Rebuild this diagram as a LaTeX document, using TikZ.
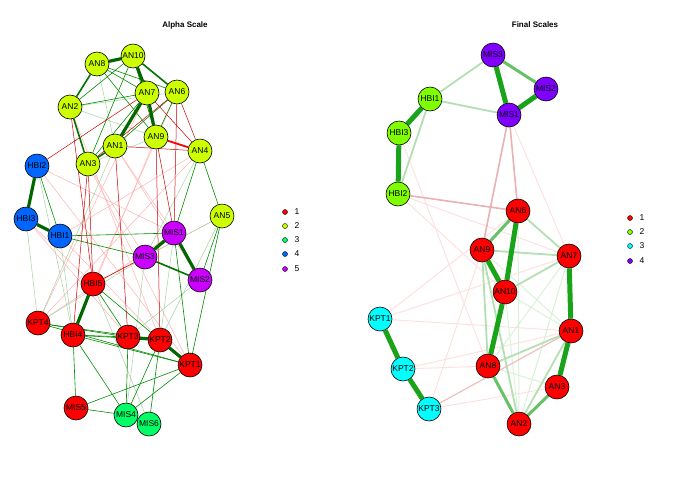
\documentclass[tikz,border=0pt]{standalone}
\usepackage{fontspec}
\setmainfont{Liberation Sans}
\pgfdeclarelayer{bg}
\pgfsetlayers{bg,main}
\begin{document}
\begin{tikzpicture}[x=1pt,y=-1pt,
 nd/.style={circle,draw=black,line width=0.6pt,minimum size=24pt,inner sep=0pt,font=\fontsize{8.5}{8.5}\selectfont},
 g1/.style={draw=green!55!black,line width=0.6pt},
 g2/.style={draw=green!45!black,line width=1.6pt},
 g3/.style={draw=green!40!black,line width=3.2pt},
 gl/.style={draw=green!50!black!35,line width=0.5pt},
 r1/.style={draw=red!80!black,line width=0.5pt},
 r2/.style={draw=red,line width=1.8pt},
 rl/.style={draw=red!30,line width=0.5pt},
 R1/.style={draw=red!70!black!30,line width=1.6pt},
 G1/.style={draw=green!60!black!30,line width=1.8pt},
 G2/.style={draw=green!60!black!60,line width=3pt},
 G3/.style={draw=green!60!black!90,line width=5pt},
 Gf/.style={draw=green!60!black!15,line width=1pt},
 Rf/.style={draw=red!12,line width=1pt},
 lg/.style={circle,draw=black,line width=0.4pt,minimum size=5pt,inner sep=0pt},
 lt/.style={font=\fontsize{8.5}{8.5}\selectfont,anchor=west}]
\useasboundingbox (0,0) rectangle (700,480);
\definecolor{yg}{RGB}{204,255,0}
\definecolor{sg}{RGB}{0,255,102}
\definecolor{bl}{RGB}{0,102,255}
\definecolor{pu}{RGB}{204,0,255}
\definecolor{ch}{RGB}{128,255,0}
\definecolor{cy}{RGB}{0,255,255}
\definecolor{vi}{RGB}{128,0,255}
\node[font=\bfseries\fontsize{8}{8}\selectfont] (t1) at (185,25) {Alpha Scale};
\node[font=\bfseries\fontsize{8}{8}\selectfont] (t2) at (535,25) {Final Scales};
% left nodes
\begin{scope}[every node/.style={nd}]
\node[fill=yg] (AN8) at (97,64) {AN8};
\node[fill=yg] (AN10) at (133,56) {AN10};
\node[fill=yg] (AN7) at (147,93) {AN7};
\node[fill=yg] (AN6) at (177,92) {AN6};
\node[fill=yg] (AN2) at (70,107) {AN2};
\node[fill=yg] (AN1) at (115,146) {AN1};
\node[fill=yg] (AN9) at (156,137) {AN9};
\node[fill=yg] (AN4) at (200,151) {AN4};
\node[fill=yg] (AN3) at (88,164) {AN3};
\node[fill=yg] (AN5) at (222,216) {AN5};
\node[fill=bl] (HBI2) at (37,166) {HBI2};
\node[fill=bl] (HBI3) at (26,219) {HBI3};
\node[fill=bl] (HBI1) at (60,236) {HBI1};
\node[fill=pu] (MIS1) at (174,233) {MIS1};
\node[fill=pu] (MIS3) at (145,257) {MIS3};
\node[fill=pu] (MIS2) at (200,280) {MIS2};
\node[fill=red] (HBI5) at (93,284) {HBI5};
\node[fill=red] (KPT4) at (38,323) {KPT4};
\node[fill=red] (HBI4) at (73,335) {HBI4};
\node[fill=red] (KPT3) at (128,337) {KPT3};
\node[fill=red] (KPT2) at (160,340) {KPT2};
\node[fill=red] (KPT1) at (190,365) {KPT1};
\node[fill=red] (MIS5) at (76,408) {MIS5};
\node[fill=sg] (MIS4) at (126,415) {MIS4};
\node[fill=sg] (MIS6) at (149,424) {MIS6};
\end{scope}
% right nodes
\begin{scope}[every node/.style={nd}]
\node[fill=vi] (RMIS3) at (493,55) {MIS3};
\node[fill=vi] (RMIS2) at (546,89) {MIS2};
\node[fill=vi] (RMIS1) at (509,115) {MIS1};
\node[fill=ch] (RHBI1) at (430,99) {HBI1};
\node[fill=ch] (RHBI3) at (399,133) {HBI3};
\node[fill=ch] (RHBI2) at (398,194) {HBI2};
\node[fill=red] (RAN6) at (518,211) {AN6};
\node[fill=red] (RAN9) at (482,250) {AN9};
\node[fill=red] (RAN7) at (569,256) {AN7};
\node[fill=red] (RAN10) at (505,292) {AN10};
\node[fill=red] (RAN1) at (571,331) {AN1};
\node[fill=red] (RAN8) at (488,366) {AN8};
\node[fill=red] (RAN3) at (557,387) {AN3};
\node[fill=red] (RAN2) at (519,424) {AN2};
\node[fill=cy] (RKPT1) at (380,319) {KPT1};
\node[fill=cy] (RKPT2) at (403,369) {KPT2};
\node[fill=cy] (RKPT3) at (429,409) {KPT3};
\end{scope}
\begin{pgfonlayer}{bg}
% left: faint lines
\foreach \a/\b in {HBI2/MIS1,HBI2/KPT1,HBI3/KPT3,HBI1/KPT2,HBI1/AN4,AN3/KPT1,AN1/MIS2,AN9/HBI4,AN4/KPT4,AN5/HBI5,AN2/KPT2,KPT4/MIS1,HBI3/HBI5,AN7/KPT4,AN6/HBI5,AN1/MIS1,AN3/MIS3}
  \draw[rl] (\a) -- (\b);
\foreach \a/\b in {HBI3/KPT4,HBI1/HBI4,KPT4/MIS3,AN5/KPT2,AN5/MIS3,MIS1/KPT2,MIS2/KPT3,AN4/MIS3,AN1/KPT4,MIS3/MIS4,HBI2/HBI4,AN3/AN9,HBI5/MIS6,AN2/AN9,AN8/AN1,AN2/AN6}
  \draw[gl] (\a) -- (\b);
% left: thin
\foreach \a/\b in {AN8/AN7,AN8/AN9,AN8/AN6,AN10/AN9,AN10/AN2,AN10/AN3,AN2/AN7,AN7/AN3,AN6/AN9,AN6/AN1,AN4/MIS1,AN4/AN5,AN5/MIS2,HBI2/HBI1,HBI1/MIS1,HBI1/MIS3,HBI5/KPT3,HBI5/KPT2,HBI4/MIS5,MIS5/MIS4,KPT4/KPT2,KPT4/KPT3,KPT4/KPT1,HBI4/KPT1,HBI4/KPT2,HBI4/KPT3,KPT3/MIS4,KPT1/MIS4,KPT1/MIS5,KPT2/MIS6,KPT2/MIS4,HBI4/MIS4,MIS1/KPT1,AN5/KPT1}
  \draw[g1] (\a) -- (\b);
\foreach \a/\b in {AN9/MIS1,AN6/MIS1,AN7/AN4,AN6/AN4,AN1/AN4,AN2/HBI5,AN3/HBI5,AN3/HBI4,AN1/KPT3,AN6/AN3,HBI2/AN7,MIS3/HBI5,AN9/KPT2}
  \draw[r1] (\a) -- (\b);
\draw[r2] (AN9) -- (AN4);
% left: strong
\foreach \a/\b in {AN8/AN2,AN10/AN6,AN2/AN3,AN1/AN3,MIS3/MIS2}
  \draw[g2] (\a) -- (\b);
\foreach \a/\b in {AN8/AN10,AN10/AN7,AN7/AN9,AN7/AN1,HBI2/HBI3,HBI3/HBI1,MIS1/MIS3,MIS1/MIS2,HBI5/HBI4,KPT3/KPT2,KPT2/KPT1}
  \draw[g3] (\a) -- (\b);
% right faint
\foreach \a/\b in {RHBI2/RAN10,RHBI2/RAN7,RKPT1/RAN6,RKPT1/RAN1,RKPT2/RAN8,RKPT3/RAN3,RKPT3/RAN9,RHBI3/RAN8,RMIS1/RAN7,RKPT2/RAN1,RKPT1/RAN7}
  \draw[Rf] (\a) -- (\b);
\foreach \a/\b in {RAN10/RAN1,RAN8/RAN3,RAN10/RAN2,RAN9/RAN1,RAN8/RAN7,RAN6/RAN2,RAN7/RAN2}
  \draw[Gf] (\a) -- (\b);
% right medium
\foreach \a/\b in {RHBI1/RMIS3,RHBI1/RMIS1,RHBI1/RHBI2,RAN6/RAN7,RAN9/RAN7,RAN10/RAN7,RAN1/RAN2,RAN9/RAN8,RAN9/RAN2,RAN8/RAN1}
  \draw[G1] (\a) -- (\b);
\foreach \a/\b in {RMIS1/RAN6,RMIS1/RAN9,RHBI2/RAN6}
  \draw[R1] (\a) -- (\b);
\draw[draw=red!70!black!25,line width=1.2pt] (RAN1) -- (RKPT3);
\foreach \a/\b in {RMIS3/RMIS2,RAN6/RAN9,RAN8/RAN2,RAN3/RAN2}
  \draw[G2] (\a) -- (\b);
\foreach \a/\b in {RHBI1/RHBI3,RHBI3/RHBI2,RMIS3/RMIS1,RMIS1/RMIS2,RAN6/RAN10,RAN9/RAN10,RAN7/RAN1,RAN1/RAN3,RAN10/RAN8,RKPT1/RKPT2,RKPT2/RKPT3}
  \draw[G3] (\a) -- (\b);
\end{pgfonlayer}
% legends
\node[lg,fill=red] (l1) at (285,212) {}; \node[lt] (l1t) at (291,212) {1};
\node[lg,fill=yg] (l2) at (285,226) {}; \node[lt] (l2t) at (291,226) {2};
\node[lg,fill=sg] (l3) at (285,240) {}; \node[lt] (l3t) at (291,240) {3};
\node[lg,fill=bl] (l4) at (285,254) {}; \node[lt] (l4t) at (291,254) {4};
\node[lg,fill=pu] (l5) at (285,269) {}; \node[lt] (l5t) at (291,269) {5};
\node[lg,fill=red] (m1) at (630,218) {}; \node[lt] (m1t) at (636,218) {1};
\node[lg,fill=ch] (m2) at (630,232) {}; \node[lt] (m2t) at (636,232) {2};
\node[lg,fill=cy] (m3) at (630,246) {}; \node[lt] (m3t) at (636,246) {3};
\node[lg,fill=vi] (m4) at (630,261) {}; \node[lt] (m4t) at (636,261) {4};
\end{tikzpicture}
\end{document}
